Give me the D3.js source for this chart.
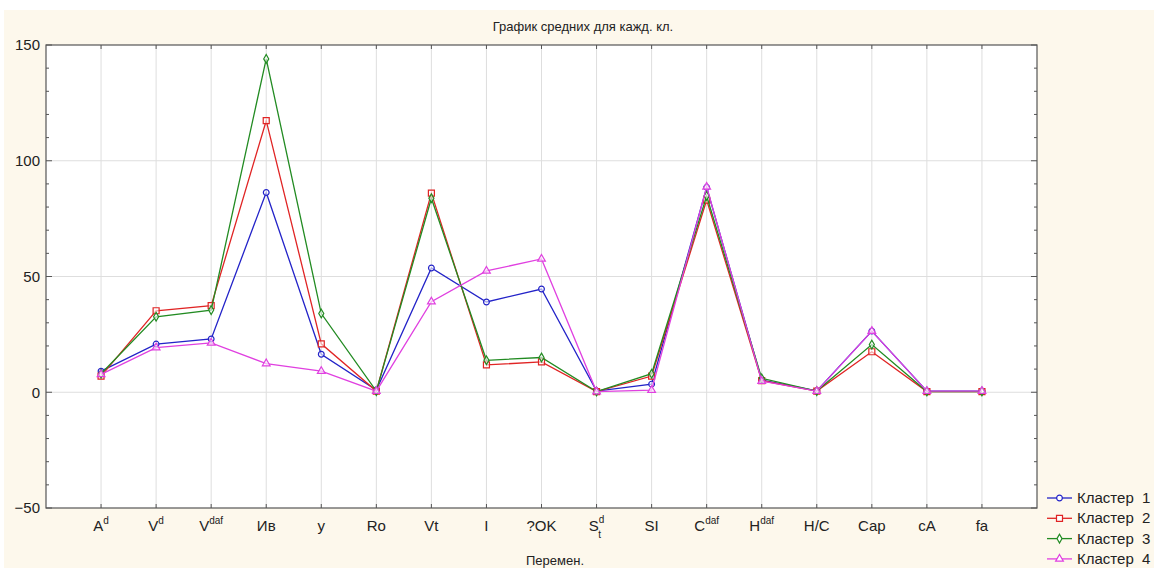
<!DOCTYPE html>
<html>
<head>
<meta charset="utf-8">
<script src="https://cdn.jsdelivr.net/npm/d3@7"></script>
<style>
  body { margin: 0; background: #fff; }
  svg { display: block; font-family: "Liberation Sans", Arial, sans-serif; }
</style>
</head>
<body>
<svg id="chart" width="1154" height="568"></svg>
<script>
// variable labels along x (base text + superscript + subscript)
const categories = [
  ["A", "d", ""], ["V", "d", ""], ["V", "daf", ""], ["Ив", "", ""], ["y", "", ""],
  ["Ro", "", ""], ["Vt", "", ""], ["I", "", ""], ["?OK", "", ""], ["S", "d", "t"],
  ["SI", "", ""], ["C", "daf", ""], ["H", "daf", ""], ["H/C", "", ""], ["Cap", "", ""],
  ["cA", "", ""], ["fa", "", ""]
];

// cluster means
const cluster1 = [9.1, 20.8, 23, 86.3, 16.4, 1, 53.7, 39, 44.6, 0.5, 3.5, 88.5, 5.2, 0.6, 26.4, 0.5, 0.5];
const cluster2 = [7, 35.2, 37.4, 117.3, 20.9, 0.5, 86, 11.8, 13.1, 0.3, 7, 83, 5, 0.5, 17.5, 0.3, 0.3];
const cluster3 = [8, 32.6, 35.5, 144, 34, 0.5, 83.8, 13.8, 15, 0.3, 8, 84.8, 6, 0.5, 20.6, 0.3, 0.3];
const cluster4 = [7.7, 19.3, 21.3, 12.4, 9.1, 0.5, 39.1, 52.4, 57.6, 0.3, 0.9, 88.7, 4.8, 0.5, 26.4, 0.5, 0.5];

const yTicks = [-50, 0, 50, 100, 150];
const seriesNames = ["Кластер  1", "Кластер  2", "Кластер  3", "Кластер  4"];

const series = [
  { name: seriesNames[0], values: cluster1, color: "#2323c8", symbol: "circle" },
  { name: seriesNames[1], values: cluster2, color: "#e02424", symbol: "square" },
  { name: seriesNames[2], values: cluster3, color: "#228b22", symbol: "diamond" },
  { name: seriesNames[3], values: cluster4, color: "#e040e0", symbol: "triangle" }
];

const svg = d3.select("#chart");
svg.selectAll("*").remove();

// cream panel
svg.append("rect").attr("x", 4).attr("y", 10).attr("width", 1150).attr("height", 558)
  .attr("fill", "#fdf8ec");

const pl = 46, pr = 1037, pt = 45, pb = 508;

const x = d3.scalePoint().domain(d3.range(categories.length)).range([pl, pr]).padding(1);
const y = d3.scaleLinear().domain([-50, 150]).range([pb, pt]);

svg.append("rect").attr("x", pl).attr("y", pt)
  .attr("width", pr - pl).attr("height", pb - pt).attr("fill", "#fff");

// grid
svg.append("g").selectAll("line").data(d3.range(categories.length)).join("line")
  .attr("x1", d => x(d)).attr("x2", d => x(d)).attr("y1", pt).attr("y2", pb)
  .attr("stroke", "#dedede").attr("stroke-width", 1);
svg.append("g").selectAll("line").data([0, 50, 100]).join("line")
  .attr("x1", pl).attr("x2", pr).attr("y1", d => y(d)).attr("y2", d => y(d))
  .attr("stroke", "#dedede").attr("stroke-width", 1);

// axes with inward ticks
const minor = d3.range(-50, 151, 10);
const yl = svg.append("g").attr("transform", `translate(${pl},0)`)
  .call(d3.axisLeft(y).tickValues(yTicks).tickSize(0).tickPadding(6));
yl.select(".domain").remove();
yl.selectAll("text").attr("font-size", 15).attr("fill", "#222").attr("font-family", "Liberation Sans, Arial");

svg.append("g").selectAll("line").data(minor).join("line")
  .attr("x1", pl).attr("x2", d => pl + (d % 50 === 0 ? 6 : 3))
  .attr("y1", d => y(d)).attr("y2", d => y(d)).attr("stroke", "#555");
svg.append("g").selectAll("line").data(minor).join("line")
  .attr("x1", pr).attr("x2", d => pr - (d % 50 === 0 ? 6 : 3))
  .attr("y1", d => y(d)).attr("y2", d => y(d)).attr("stroke", "#555");
svg.append("g").selectAll("line").data(d3.range(categories.length)).join("line")
  .attr("x1", d => x(d)).attr("x2", d => x(d)).attr("y1", pb).attr("y2", pb - 4)
  .attr("stroke", "#555");
svg.append("g").selectAll("line").data(d3.range(categories.length)).join("line")
  .attr("x1", d => x(d)).attr("x2", d => x(d)).attr("y1", pt).attr("y2", pt + 4)
  .attr("stroke", "#555");

svg.append("rect").attr("x", pl).attr("y", pt)
  .attr("width", pr - pl).attr("height", pb - pt)
  .attr("fill", "none").attr("stroke", "#555").attr("stroke-width", 1.2);

// x labels
const xl = svg.append("g").selectAll("text").data(categories).join("text")
  .attr("x", (d, i) => x(i)).attr("y", 531)
  .attr("text-anchor", "middle").attr("font-size", 15).attr("fill", "#222");
xl.each(function (d) {
  const t = d3.select(this);
  t.append("tspan").text(d[0]);
  if (d[1] && d[2]) {
    t.append("tspan").attr("font-size", 10).attr("dy", -8).text(d[1]);
    t.append("tspan").attr("font-size", 10).attr("dx", -6).attr("dy", 15).text(d[2]);
  } else if (d[1]) {
    t.append("tspan").attr("font-size", 10).attr("dy", -7).text(d[1]);
  }
});

// titles
svg.append("text").attr("x", 583).attr("y", 31).attr("text-anchor", "middle")
  .attr("font-size", 13).attr("fill", "#222").text("График средних для кажд. кл.");
svg.append("text").attr("x", 555).attr("y", 565).attr("text-anchor", "middle")
  .attr("font-size", 13).attr("fill", "#222").text("Перемен.");

const symbolType = { circle: d3.symbolCircle, square: d3.symbolSquare, diamond: d3.symbolDiamond, triangle: d3.symbolTriangle };
const symSize = { circle: 26, square: 36, diamond: 22, triangle: 26 };

const line = d3.line().x((d, i) => x(i)).y(d => y(d));

series.forEach(s => {
  svg.append("path").datum(s.values).attr("d", line)
    .attr("fill", "none").attr("stroke", s.color).attr("stroke-width", 1.3);
  svg.append("g").selectAll("path").data(s.values).join("path")
    .attr("transform", (d, i) => `translate(${x(i)},${y(d)})`)
    .attr("d", d3.symbol(symbolType[s.symbol], symSize[s.symbol]))
    .attr("fill", "#fff").attr("fill-opacity", 0.6).attr("stroke", s.color).attr("stroke-width", 1.2);
});

// legend
const lg = svg.append("g").selectAll("g").data(series).join("g")
  .attr("transform", (d, i) => `translate(1047,${498 + i * 20.3})`);
lg.append("line").attr("x1", 0).attr("x2", 25).attr("stroke", d => d.color).attr("stroke-width", 1.3);
lg.append("path").attr("transform", "translate(12.5,0)")
  .attr("d", d => d3.symbol(symbolType[d.symbol], symSize[d.symbol])())
  .attr("fill", "#fff").attr("stroke", d => d.color).attr("stroke-width", 1.2);
lg.append("text").attr("x", 30).attr("y", 5).attr("font-size", 15).attr("fill", "#222")
  .style("white-space", "pre").text(d => d.name);
</script>
</body>
</html>
